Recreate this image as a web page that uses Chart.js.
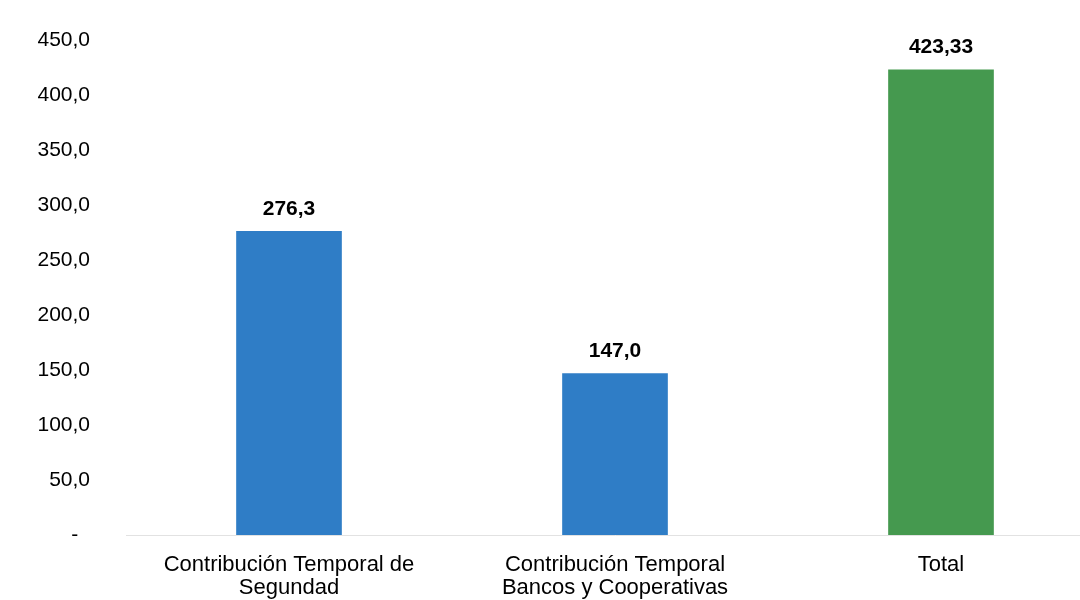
<!DOCTYPE html>
<html>
<head>
<meta charset="utf-8">
<script src="https://cdn.jsdelivr.net/npm/chart.js@4"></script>
<style>
  html, body { margin: 0; padding: 0; background: #fff; overflow: hidden; }
  #wrap { width: 1110px; height: 600px; }
</style>
</head>
<body>
<div id="wrap"><canvas id="chart" width="1110" height="600"></canvas></div>
<script>
// data
const categories = [
  ['Contribución Temporal de', 'Segundad'],
  ['Contribución Temporal', 'Bancos y Cooperativas'],
  'Total'
];
const values = [276.3, 147.0, 423.33];
const valueLabels = ['276,3', '147,0', '423,33'];
const barColors = ['#2f7dc6', '#2f7dc6', '#45994f'];
const yTicks = [0, 50, 100, 150, 200, 250, 300, 350, 400, 450];

const FONT = '"Liberation Sans", Arial, sans-serif';

const valueLabelPlugin = {
  id: 'valueLabels',
  afterDatasetsDraw(chart) {
    const ctx = chart.ctx;
    const meta = chart.getDatasetMeta(0);
    ctx.save();
    ctx.font = 'bold 21px ' + FONT;
    ctx.fillStyle = '#000';
    ctx.textAlign = 'center';
    ctx.textBaseline = 'bottom';
    meta.data.forEach((bar, i) => {
      ctx.fillText(valueLabels[i], bar.x, bar.y - 12);
    });
    ctx.restore();
  }
};

new Chart(document.getElementById('chart'), {
  type: 'bar',
  data: {
    labels: categories,
    datasets: [{
      data: values,
      backgroundColor: barColors,
      barThickness: 105
    }]
  },
  options: {
    responsive: false,
    animation: false,
    layout: { padding: { top: 28, bottom: 0, left: 0, right: 6 } },
    plugins: {
      legend: { display: false },
      tooltip: { enabled: false }
    },
    scales: {
      x: {
        afterFit(scale) { scale.height = 65; },
        grid: { display: false, drawTicks: false },
        border: { color: '#e2e2e2' },
        ticks: {
          color: '#000',
          font: { family: FONT, size: 22, lineHeight: 1.05 },
          padding: 18,
          maxRotation: 0
        }
      },
      y: {
        min: 0,
        max: 450,
        afterBuildTicks(scale) {
          scale.ticks = yTicks.map(v => ({ value: v }));
        },
        afterFit(scale) { scale.width = 126; },
        grid: { display: false },
        border: { display: false },
        ticks: {
          color: '#000',
          font: { family: FONT, size: 21 },
          padding: 28,
          callback: v => v === 0 ? '-  ' : v.toFixed(1).replace('.', ',')
        }
      }
    }
  },
  plugins: [valueLabelPlugin]
});
</script>
</body>
</html>
